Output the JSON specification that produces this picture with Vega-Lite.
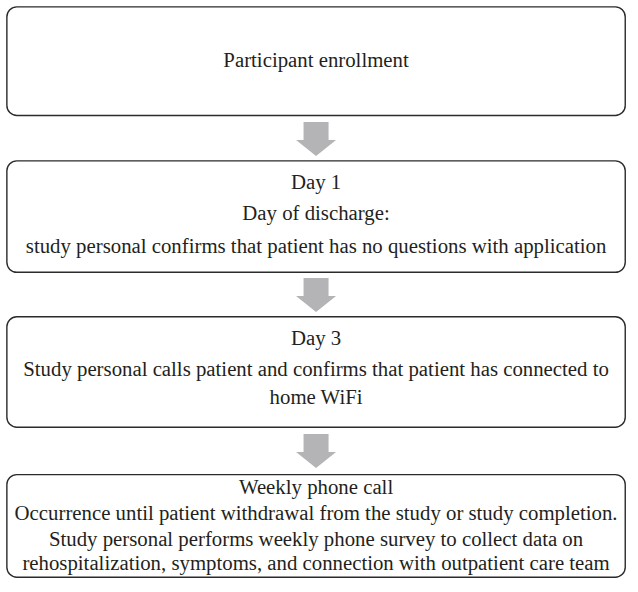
{
  "$schema": "https://vega.github.io/schema/vega-lite/v6.json",
  "width": 638,
  "height": 592,
  "autosize": {"type": "fit", "contains": "padding"},
  "padding": 0,
  "background": "white",
  "config": {"view": {"stroke": null}},
  "datasets": {
    "boxes": [
      {"step": "Participant enrollment", "x0": 7, "x1": 637, "y0": 7, "y1": 117},
      {"step": "Day 1", "x0": 7, "x1": 637, "y0": 163, "y1": 276},
      {"step": "Day 3", "x0": 7, "x1": 637, "y0": 321, "y1": 433},
      {"step": "Weekly phone call", "x0": 7, "x1": 637, "y0": 481, "y1": 585}
    ],
    "arrows": [
      {"from": "Participant enrollment", "x": 322, "y": 141},
      {"from": "Day 1", "x": 322, "y": 299},
      {"from": "Day 3", "x": 322, "y": 457}
    ],
    "labels": [
      {"text": "Participant enrollment", "x": 322, "y": 62},
      {"text": "Day 1", "x": 322, "y": 185},
      {"text": "Day of discharge:", "x": 322, "y": 217},
      {"text": "study personal confirms that patient has no questions with application", "x": 322, "y": 250},
      {"text": "Day 3", "x": 322, "y": 344},
      {"text": "Study personal calls patient and confirms that patient has connected to", "x": 322, "y": 375},
      {"text": "home WiFi", "x": 322, "y": 403},
      {"text": "Weekly phone call", "x": 322, "y": 495},
      {"text": "Occurrence until patient withdrawal from the study or study completion.", "x": 322, "y": 521},
      {"text": "Study personal performs weekly phone survey to collect data on", "x": 322, "y": 547},
      {"text": "rehospitalization, symptoms, and connection with outpatient care team", "x": 322, "y": 572}
    ]
  },
  "layer": [
    {
      "data": {"name": "boxes"},
      "mark": {"type": "rect", "fill": "white", "stroke": "#2b2b2b", "strokeWidth": 1.4, "cornerRadius": 10},
      "encoding": {
        "x": {"field": "x0", "type": "quantitative", "scale": {"domain": [0, 638]}, "axis": null},
        "x2": {"field": "x1"},
        "y": {"field": "y0", "type": "quantitative", "scale": {"domain": [0, 592], "reverse": true}, "axis": null},
        "y2": {"field": "y1"}
      }
    },
    {
      "data": {"name": "arrows"},
      "mark": {"type": "point", "filled": true, "fill": "#b4b4b7", "opacity": 1, "strokeWidth": 0, "size": 1600,
        "shape": "M-0.625,-0.85L0.625,-0.85L0.625,0.05L1,0.05L0,0.85L-1,0.05L-0.625,0.05Z"},
      "encoding": {
        "x": {"field": "x", "type": "quantitative"},
        "y": {"field": "y", "type": "quantitative"}
      }
    },
    {
      "data": {"name": "labels"},
      "mark": {"type": "text", "font": "Liberation Serif", "fontSize": 20.8, "color": "#231f20", "align": "center", "baseline": "middle"},
      "encoding": {
        "x": {"field": "x", "type": "quantitative"},
        "y": {"field": "y", "type": "quantitative"},
        "text": {"field": "text"}
      }
    }
  ]
}
